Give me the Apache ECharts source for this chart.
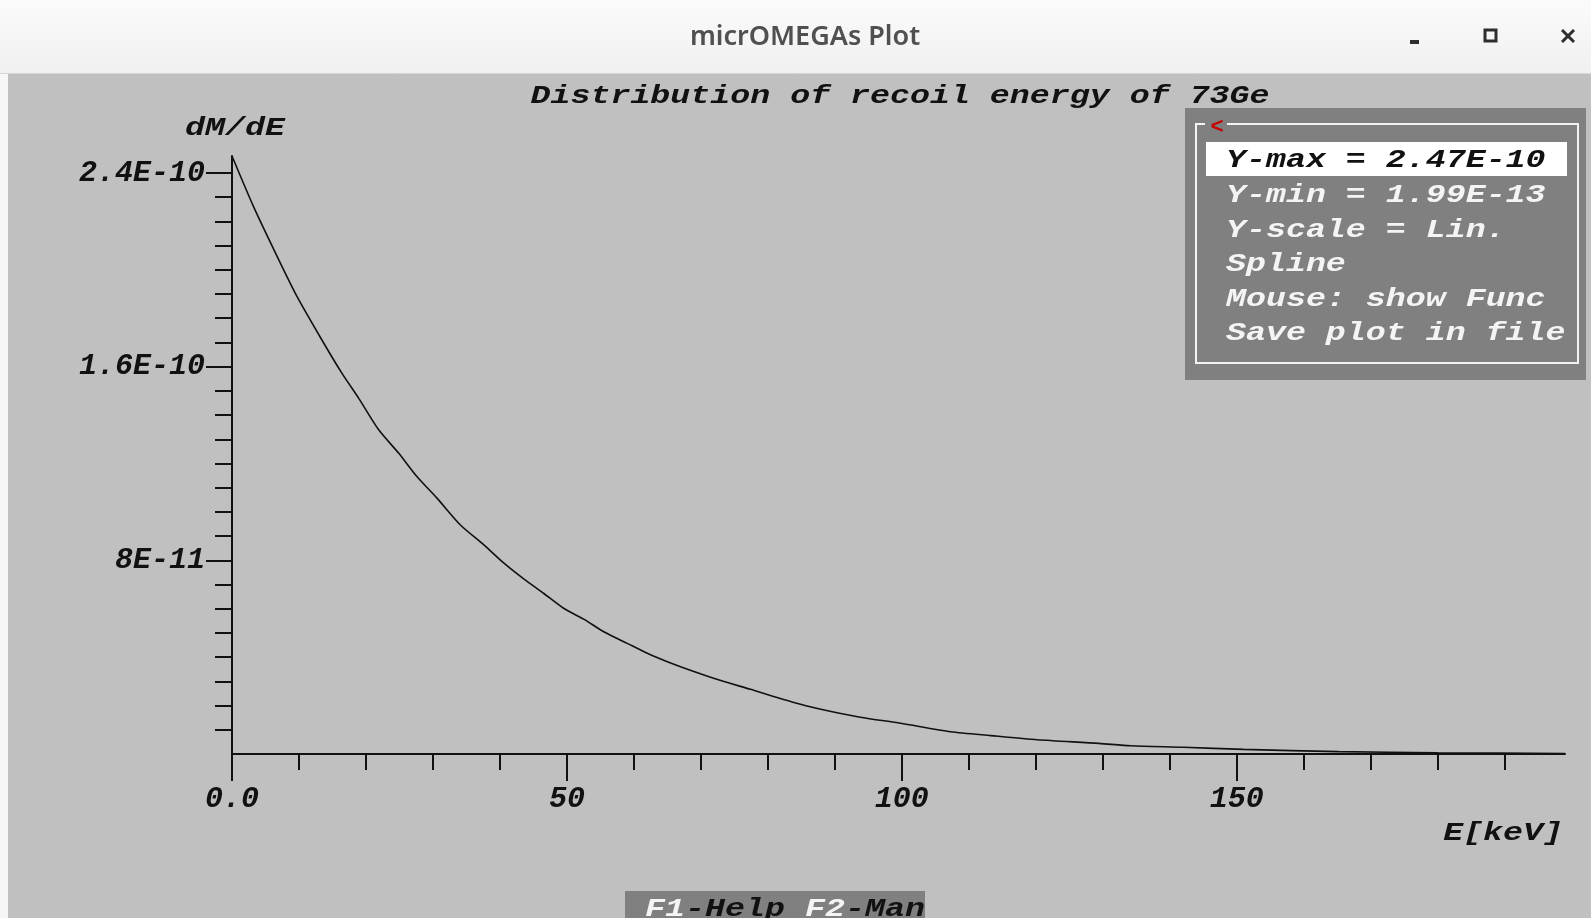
<!DOCTYPE html>
<html>
<head>
<meta charset="utf-8">
<title>microOMEGAs Plot</title>
<script src="https://cdn.jsdelivr.net/npm/echarts@6/dist/echarts.min.js"></script>
<style>
  html, body { margin: 0; padding: 0; background: #ffffff; }
  #chart { width: 1591px; height: 918px; }
</style>
</head>
<body>
<div id="chart"></div>
<script>
// recoil energy (keV) and dM/dE
const eVals = [0, 3.2, 6.5, 9.7, 13.4, 16.4, 18.9, 21.9, 24.9, 27.6, 30.6, 34.1, 37.6, 40.6,
  43.6, 46.5, 49.5, 52.5, 55.5, 59.0, 62.0, 65.0, 68.0, 71.9, 77.4, 83.6, 87.9, 93.8, 99.8,
  107.3, 113.3, 120.2, 129.4, 134.2, 142.1, 151.0, 165.2, 180, 199]
const dmdeVals = [2.47e-10, 2.262e-10, 2.069e-10, 1.890e-10, 1.711e-10, 1.573e-10, 1.470e-10,
  1.339e-10, 1.242e-10, 1.146e-10, 1.057e-10, 9.46e-11, 8.64e-11, 7.88e-11, 7.22e-11, 6.64e-11,
  6.02e-11, 5.57e-11, 5.05e-11, 4.57e-11, 4.16e-11, 3.81e-11, 3.50e-11, 3.13e-11, 2.67e-11,
  2.15e-11, 1.85e-11, 1.52e-11, 1.27e-11, 9.2e-12, 7.6e-12, 5.9e-12, 4.4e-12, 3.4e-12,
  2.8e-12, 1.9e-12, 1.0e-12, 5e-13, 1.99e-13]

// ticks
const xMajorTicks = [0, 50, 100, 150]
const xTickLabels = ['0.0', '50', '100', '150']
const xMinorTicks = [10, 20, 30, 40, 60, 70, 80, 90, 110, 120, 130, 140, 160, 170, 180, 190]
const yMajorTicks = [8e-11, 1.6e-10, 2.4e-10]
const yTickLabels = ['8E-11', '1.6E-10', '2.4E-10']
const yMinorTicks = [1e-11, 2e-11, 3e-11, 4e-11, 5e-11, 6e-11, 7e-11,
  9e-11, 1e-10, 1.1e-10, 1.2e-10, 1.3e-10, 1.4e-10, 1.5e-10,
  1.7e-10, 1.8e-10, 1.9e-10, 2e-10, 2.1e-10, 2.2e-10, 2.3e-10]

// menu lines
const menuItems = ['Y-max = 2.47E-10', 'Y-min = 1.99E-13', 'Y-scale = Lin.', 'Spline',
  'Mouse: show Func', 'Save plot in file']

const xMax = 199
const yMax = 2.47e-10

const chart = echarts.init(document.getElementById('chart'))

const mono = '"Liberation Mono", "DejaVu Sans Mono", monospace'
const plotFont = 'italic bold 26px ' + mono
const sx = 1.28

function label (text, x, y, align, color) {
  return {
    type: 'text',
    x: x,
    y: y,
    scaleX: sx,
    z: 20,
    silent: true,
    style: {
      text: text,
      x: 0,
      y: 0,
      font: plotFont,
      fill: color || '#111111',
      textAlign: align || 'left',
      textVerticalAlign: 'middle'
    }
  }
}

const graphics = [
  // window title bar
  {
    type: 'rect',
    z: 0,
    silent: true,
    shape: { x: 0, y: 0, width: 1591, height: 73 },
    style: {
      fill: new echarts.graphic.LinearGradient(0, 0, 0, 1, [
        { offset: 0, color: '#fbfbfb' },
        { offset: 1, color: '#f0f0f0' }
      ])
    }
  },
  { type: 'line', z: 1, silent: true, shape: { x1: 0, y1: 73.5, x2: 1591, y2: 73.5 }, style: { stroke: '#d6d6d6', lineWidth: 1 } },
  { type: 'rect', z: 0, silent: true, shape: { x: 0, y: 74, width: 8, height: 844 }, style: { fill: '#f6f6f6' } },
  {
    type: 'text',
    z: 2,
    silent: true,
    style: {
      text: 'micrOMEGAs Plot',
      x: 805,
      y: 37,
      font: '600 27px "Noto Sans", "Open Sans", sans-serif',
      fill: '#505050',
      textAlign: 'center',
      textVerticalAlign: 'middle'
    }
  },
  // window buttons
  { type: 'rect', z: 2, silent: true, shape: { x: 1410, y: 40, width: 9, height: 4 }, style: { fill: '#2e2e2e' } },
  { type: 'rect', z: 2, silent: true, shape: { x: 1485, y: 30, width: 11, height: 11 }, style: { fill: 'none', stroke: '#2e2e2e', lineWidth: 3 } },
  { type: 'line', z: 2, silent: true, shape: { x1: 1562, y1: 30, x2: 1574, y2: 42 }, style: { stroke: '#2e2e2e', lineWidth: 3 } },
  { type: 'line', z: 2, silent: true, shape: { x1: 1574, y1: 30, x2: 1562, y2: 42 }, style: { stroke: '#2e2e2e', lineWidth: 3 } },

  // plot texts
  label('Distribution of recoil energy of 73Ge', 900, 96, 'center'),
  label('dM/dE', 235, 128, 'center'),
  label('E[keV]', 1563, 833, 'right'),

  // menu box
  { type: 'rect', z: 10, silent: true, shape: { x: 1185, y: 108, width: 401, height: 272 }, style: { fill: '#808080' } },
  { type: 'rect', z: 11, silent: true, shape: { x: 1196, y: 124, width: 382, height: 239 }, style: { fill: 'none', stroke: '#f2f2f2', lineWidth: 2 } },
  { type: 'rect', z: 12, silent: true, shape: { x: 1205, y: 116, width: 22, height: 16 }, style: { fill: '#808080' } },
  {
    type: 'text',
    z: 13,
    silent: true,
    style: {
      text: '<',
      x: 1217,
      y: 127,
      font: 'bold 22px ' + mono,
      fill: '#c40000',
      textAlign: 'center',
      textVerticalAlign: 'middle'
    }
  },
  { type: 'rect', z: 12, silent: true, shape: { x: 1206, y: 142, width: 361, height: 34 }, style: { fill: '#ffffff' } },

  // bottom key box
  { type: 'rect', z: 10, silent: true, shape: { x: 625, y: 891, width: 300, height: 30 }, style: { fill: '#808080' } },
  label('F1', 645, 909, 'left', '#f4f4f4'),
  label('-Help', 685, 909, 'left', '#111111'),
  label('F2', 805, 909, 'left', '#f4f4f4'),
  label('-Man', 845, 909, 'left', '#111111')
]

const menuY = [160, 195, 230, 264, 299, 333]
menuItems.forEach((t, i) => {
  graphics.push(label(t, 1226, menuY[i], 'left', i === 0 ? '#111111' : '#f4f4f4'))
})

const axisLabelFont = {
  fontFamily: mono,
  fontStyle: 'italic',
  fontWeight: 'bold',
  fontSize: 30,
  color: '#111111'
}

const option = {
  backgroundColor: '#c0c0c0',
  animation: false,
  grid: {
    left: 232,
    right: 26,
    top: 156,
    bottom: 164
  },
  xAxis: [
    {
      type: 'value',
      min: 0,
      max: xMax,
      splitLine: { show: false },
      axisLine: { onZero: false, lineStyle: { color: '#111111', width: 2 } },
      axisTick: { customValues: xMajorTicks, length: 27, lineStyle: { color: '#111111', width: 2 } },
      axisLabel: Object.assign({
        customValues: xMajorTicks,
        margin: 30,
        formatter: function (v) {
          const i = xMajorTicks.indexOf(v)
          return i >= 0 ? xTickLabels[i] : ''
        }
      }, axisLabelFont)
    },
    {
      type: 'value',
      min: 0,
      max: xMax,
      position: 'bottom',
      splitLine: { show: false },
      axisLine: { show: false, onZero: false },
      axisTick: { customValues: xMinorTicks, length: 16, lineStyle: { color: '#111111', width: 2 } },
      axisLabel: { show: false }
    }
  ],
  yAxis: [
    {
      type: 'value',
      min: 0,
      max: yMax,
      splitLine: { show: false },
      axisLine: { onZero: false, lineStyle: { color: '#111111', width: 2 } },
      axisTick: { customValues: yMajorTicks, length: 26, lineStyle: { color: '#111111', width: 2 } },
      axisLabel: Object.assign({
        customValues: yMajorTicks,
        margin: 27,
        formatter: function (v) {
          let best = 0
          yMajorTicks.forEach((t, i) => {
            if (Math.abs(t - v) < Math.abs(yMajorTicks[best] - v)) best = i
          })
          return yTickLabels[best]
        }
      }, axisLabelFont)
    },
    {
      type: 'value',
      min: 0,
      max: yMax,
      position: 'left',
      splitLine: { show: false },
      axisLine: { show: false, onZero: false },
      axisTick: { customValues: yMinorTicks, length: 17, lineStyle: { color: '#111111', width: 2 } },
      axisLabel: { show: false }
    }
  ],
  graphic: { elements: graphics },
  series: [
    {
      name: 'dM/dE',
      type: 'line',
      xAxisIndex: 0,
      yAxisIndex: 0,
      showSymbol: false,
      smooth: 0.25,
      lineStyle: { color: '#111111', width: 1.6 },
      data: eVals.map((e, i) => [e, dmdeVals[i]])
    }
  ]
}

chart.setOption(option)
</script>
</body>
</html>
